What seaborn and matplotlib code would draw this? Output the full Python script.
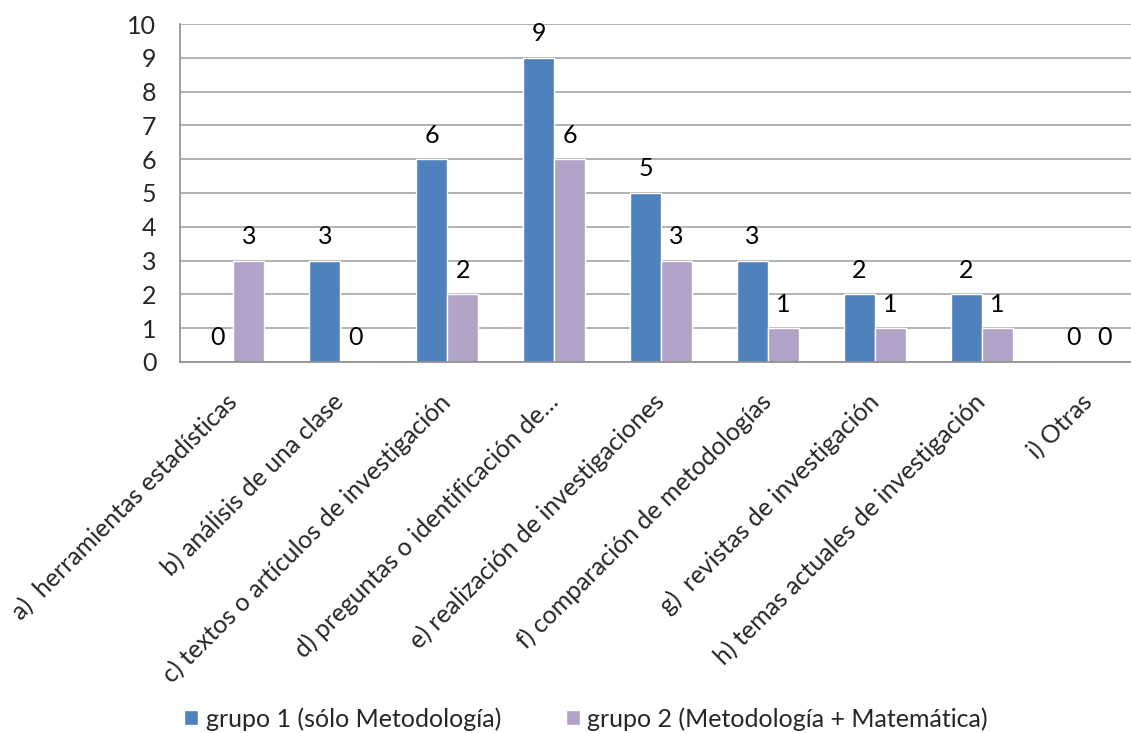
import numpy as np
import pandas as pd
import matplotlib
matplotlib.use('Agg')
import matplotlib.pyplot as plt
import seaborn as sns

## chart data
categorias = ['a)  herramientas estadísticas', 'b) análisis de una clase',
              'c) textos o artículos de investigación', 'd) preguntas o identificación de…',
              'e) realización de investigaciones', 'f) comparación de metodologías',
              'g)  revistas de investigación', 'h) temas actuales de investigación', 'i) Otras']
grupo1 = [0, 3, 6, 9, 5, 3, 2, 2, 0]
grupo2 = [3, 0, 2, 6, 3, 1, 1, 1, 0]
series = ['grupo 1 (sólo Metodología)', 'grupo 2 (Metodología + Matemática)']
colores = ['#4F81BD', '#B3A2C7']

df = pd.DataFrame({
    'categoria': categorias * 2,
    'valor': grupo1 + grupo2,
    'grupo': [series[0]] * len(categorias) + [series[1]] * len(categorias),
})

sns.set_style('white')
plt.rcParams['font.family'] = ['Lato', 'DejaVu Sans']
fs = 18

fig = plt.figure(figsize=(11.31, 7.33), dpi=100)
ax = fig.add_axes([180 / 1131, 1 - 362 / 733, (1142 - 180) / 1131, (362 - 24) / 733])

sns.barplot(data=df, x='categoria', y='valor', hue='grupo', palette=colores,
            width=0.58, saturation=1, ax=ax, legend=True)

## value labels above bars
for cont in ax.containers:
    ax.bar_label(cont, fmt='%d', padding=9, fontsize=fs, color='black')

ax.set_ylim(0, 10)
ax.set_xlim(-0.5, 8.5)
ax.set_yticks(range(0, 11))
ax.set_xlabel('')
ax.set_ylabel('')
ax.yaxis.grid(True, color='#A6A6A6', linewidth=1.2)
ax.set_axisbelow(True)
for s in ['top', 'right']:
    ax.spines[s].set_visible(False)
for s in ['left', 'bottom']:
    ax.spines[s].set_color('#8C8C8C')
    ax.spines[s].set_linewidth(1.2)

## ticks at the category boundaries
ax.set_xticks(np.arange(-0.5, 9, 1), minor=True)
ax.tick_params(axis='x', which='major', length=0, pad=26)
ax.tick_params(axis='x', which='minor', length=7, color='#8C8C8C', width=1.2)
ax.tick_params(axis='y', length=7, color='#8C8C8C', width=1.2, labelsize=fs, pad=10)
ax.set_xticks(range(len(categorias)))
ax.set_xticklabels(categorias, rotation=45, ha='right', va='center',
                   rotation_mode='anchor', fontsize=fs)

## legend at the bottom
handles, labels = ax.get_legend_handles_labels()
ax.get_legend().remove()
fig.legend(handles, labels, loc='center', bbox_to_anchor=(586 / 1131, 1 - 719 / 733),
           ncol=2, frameon=False, fontsize=fs, handlelength=0.55, handleheight=0.55,
           handletextpad=0.3, columnspacing=2.6)

fig.savefig('out.png', dpi=100)
